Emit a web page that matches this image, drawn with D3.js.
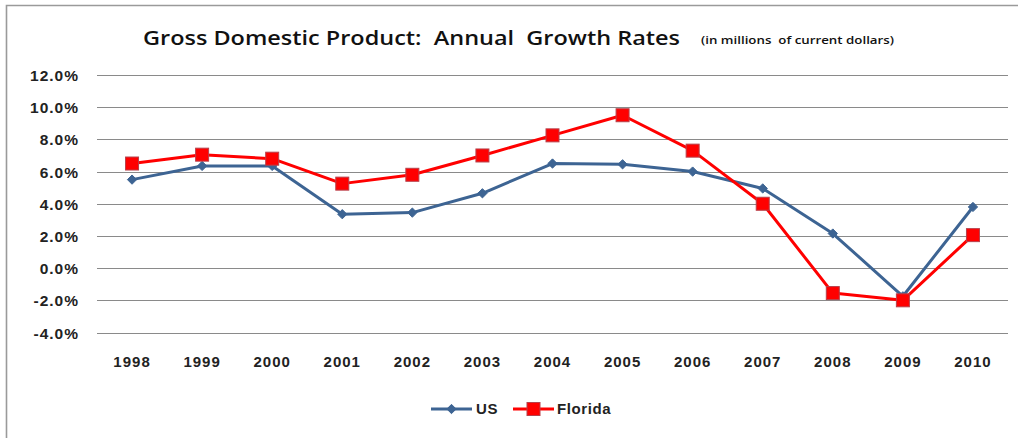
<!DOCTYPE html>
<html>
<head>
<meta charset="utf-8">
<script src="https://cdn.jsdelivr.net/npm/d3@7"></script>
<style>
  html, body { margin: 0; padding: 0; background: #fff; }
  svg { display: block; }
</style>
</head>
<body>
<svg id="chart" width="1018" height="438"></svg>
<script>
const years = ["1998","1999","2000","2001","2002","2003","2004","2005","2006","2007","2008","2009","2010"];
const usValues = [5.5, 6.35, 6.35, 3.35, 3.45, 4.65, 6.5, 6.45, 6.0, 4.95, 2.15, -1.75, 3.8];
const floridaValues = [6.5, 7.05, 6.8, 5.25, 5.8, 7.0, 8.25, 9.5, 7.3, 4.0, -1.55, -2.0, 2.05];
const yTicks = [-4, -2, 0, 2, 4, 6, 8, 10, 12];
const seriesNames = ["US", "Florida"];

const svg = d3.select("#chart");
const W = 1018, H = 438;
const plot = { left: 97, right: 1008, top: 75, bottom: 332.5 };
const labelFont = "'Liberation Sans', Arial, sans-serif";

// frame (top and left edges visible)
svg.append("path")
  .attr("d", `M6.5,${H} L6.5,5.5 L${W},5.5`)
  .attr("fill", "none").attr("stroke", "#9a9a9a").attr("stroke-width", 1.6);

const x = d3.scaleBand().domain(years).range([plot.left, plot.right]);
const y = d3.scaleLinear().domain([-4, 12]).range([plot.bottom, plot.top]);

// gridlines
svg.append("g").selectAll("line").data(yTicks).join("line")
  .attr("x1", plot.left).attr("x2", plot.right)
  .attr("y1", d => Math.round(y(d)) + 0.5).attr("y2", d => Math.round(y(d)) + 0.5)
  .attr("stroke", "#8a8a8a").attr("stroke-width", 1);

// y axis labels
const yAxis = d3.axisLeft(y).tickValues(yTicks).tickSize(0).tickPadding(0)
  .tickFormat(d => d.toFixed(1) + "%");
const gy = svg.append("g").attr("transform", `translate(79,0)`).call(yAxis);
gy.select(".domain").remove();
gy.selectAll("text")
  .attr("font-family", labelFont)
  .attr("font-size", 15.5).attr("font-weight", "bold").attr("fill", "#222")
  .attr("letter-spacing", 1).attr("dy", "0.36em");

// x axis labels
const xAxis = d3.axisBottom(x).tickSize(0).tickPadding(0);
const gx = svg.append("g").attr("transform", `translate(0,356)`).call(xAxis);
gx.select(".domain").remove();
gx.selectAll("text")
  .attr("font-family", labelFont)
  .attr("font-size", 15).attr("font-weight", "bold").attr("fill", "#222")
  .attr("letter-spacing", 1).attr("dy", "0.72em");

const cx = d => x(d) + x.bandwidth() / 2;
const line = d3.line().x(d => cx(d.year)).y(d => y(d.v));

const usData = years.map((yr, i) => ({ year: yr, v: usValues[i] }));
const flData = years.map((yr, i) => ({ year: yr, v: floridaValues[i] }));

const usColor = "#3d6493", flColor = "#ff0000";

svg.append("path").datum(usData).attr("d", line)
  .attr("fill", "none").attr("stroke", usColor).attr("stroke-width", 3).attr("stroke-linejoin", "round");
svg.append("path").datum(flData).attr("d", line)
  .attr("fill", "none").attr("stroke", flColor).attr("stroke-width", 3).attr("stroke-linejoin", "round");

// US diamonds
const diamond = d3.symbol().type(d3.symbolDiamond2).size(55);
svg.append("g").selectAll("path").data(usData).join("path")
  .attr("d", diamond)
  .attr("transform", d => `translate(${cx(d.year)},${y(d.v)})`)
  .attr("fill", usColor).attr("stroke", usColor).attr("stroke-width", 1);

// Florida squares
const sq = 13;
svg.append("g").selectAll("rect").data(flData).join("rect")
  .attr("x", d => cx(d.year) - sq / 2).attr("y", d => y(d.v) - sq / 2)
  .attr("width", sq).attr("height", sq)
  .attr("fill", flColor).attr("stroke", "#b8404a").attr("stroke-width", 1);

// title
svg.append("text").attr("x", 143).attr("y", 45)
  .attr("font-family", "'Open Sans', sans-serif").attr("font-weight", 600)
  .attr("font-size", 20.5).attr("fill", "#111")
  .attr("textLength", 537).attr("lengthAdjust", "spacingAndGlyphs")
  .attr("style", "white-space: pre")
  .text("Gross Domestic Product:  Annual  Growth Rates");
svg.append("text").attr("x", 701).attr("y", 44)
  .attr("font-family", "'Open Sans', sans-serif").attr("font-weight", 600)
  .attr("font-size", 11).attr("fill", "#111")
  .attr("textLength", 193).attr("lengthAdjust", "spacingAndGlyphs")
  .attr("style", "white-space: pre")
  .text("(in millions  of current dollars)");

// legend
const lg = svg.append("g");
const legendItems = [
  { name: seriesNames[0], color: usColor, x0: 431, type: "diamond", tx: 476 },
  { name: seriesNames[1], color: flColor, x0: 513, type: "square", tx: 557 }
];
legendItems.forEach(it => {
  lg.append("line").attr("x1", it.x0).attr("x2", it.x0 + 41)
    .attr("y1", 409).attr("y2", 409).attr("stroke", it.color).attr("stroke-width", 3);
  if (it.type === "diamond") {
    lg.append("path").attr("d", diamond).attr("transform", `translate(${it.x0 + 20.5},409)`)
      .attr("fill", it.color).attr("stroke", it.color);
  } else {
    lg.append("rect").attr("x", it.x0 + 20.5 - 6.5).attr("y", 409 - 6.5)
      .attr("width", 13).attr("height", 13)
      .attr("fill", it.color).attr("stroke", "#b8404a");
  }
  lg.append("text").attr("x", it.tx).attr("y", 409).attr("dy", "0.36em")
    .attr("font-family", labelFont)
    .attr("font-size", 15).attr("font-weight", "bold").attr("fill", "#222")
    .attr("letter-spacing", 0.6)
    .text(it.name);
});
</script>
</body>
</html>
